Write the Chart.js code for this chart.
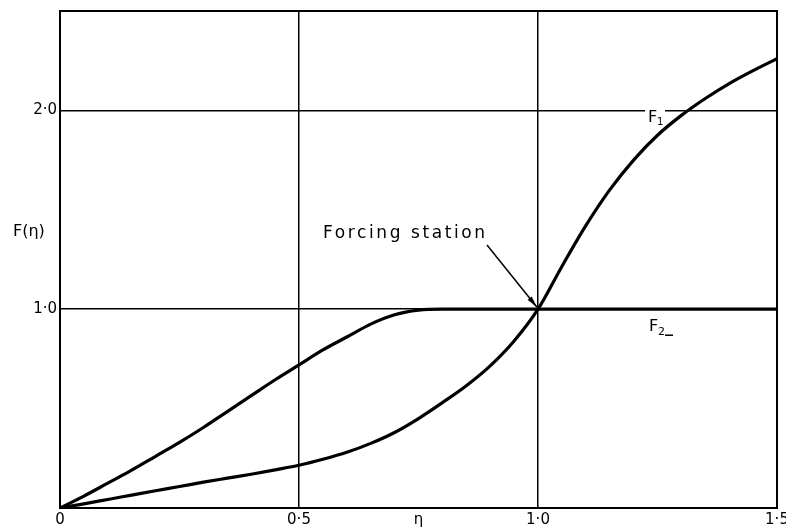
<!DOCTYPE html>
<html>
<head>
<meta charset="utf-8">
<script src="https://cdn.jsdelivr.net/npm/chart.js@4/dist/chart.umd.min.js"></script>
<style>
  body { margin: 0; background: #fff; }
  canvas { display: block; }
</style>
</head>
<body>
<canvas id="chart" width="786" height="532"></canvas>
<script>
// ====================
// Datos
// ====================
const eta = [0, 0.05, 0.1, 0.15, 0.2, 0.25, 0.3, 0.35, 0.4, 0.45, 0.5, 0.55, 0.6, 0.65, 0.7, 0.75, 0.8, 0.85, 0.9, 0.95,
             1.0, 1.05, 1.1, 1.15, 1.2, 1.25, 1.3, 1.35, 1.4, 1.45, 1.5];
const f1Values = [0, 0.021, 0.043, 0.065, 0.087, 0.108, 0.13, 0.15, 0.17, 0.192, 0.215, 0.245, 0.28, 0.325, 0.38, 0.45, 0.53, 0.615, 0.715, 0.84,
                  1.0, 1.215, 1.42, 1.6, 1.75, 1.875, 1.975, 2.06, 2.135, 2.2, 2.26];
const f2Values = [0, 0.06, 0.125, 0.19, 0.26, 0.33, 0.405, 0.485, 0.565, 0.645, 0.72, 0.795, 0.86, 0.925, 0.972, 0.995, 1.0, 1.0, 1.0, 1.0,
                  1.0, 1.0, 1.0, 1.0, 1.0, 1.0, 1.0, 1.0, 1.0, 1.0, 1.0];
const xTicks = [0, 0.5, 0.75, 1.0, 1.5];
const xTickLabels = ['0', '0·5', 'η', '1·0', '1·5'];
const yTicks = [0, 1.0, 2.0, 2.5];
const yTickLabels = ['', '1·0', '2·0', ''];

const FONT = '"DejaVu Sans", sans-serif';

// Texto, marco y flecha sobre el gráfico
const annotations = {
  id: 'annotations',
  afterDraw(chart) {
    const { ctx, chartArea, scales } = chart;
    const xs = scales.x, ys = scales.y;
    ctx.save();
    ctx.strokeStyle = '#000';
    ctx.fillStyle = '#000';
    ctx.lineWidth = 2;
    ctx.strokeRect(chartArea.left, chartArea.top, chartArea.right - chartArea.left, chartArea.bottom - chartArea.top);

    ctx.font = '16px ' + FONT;
    ctx.textBaseline = 'middle';
    ctx.textAlign = 'left';
    ctx.fillText('F(η)', 13, 232);

    ctx.textBaseline = 'alphabetic';
    ctx.font = '17px ' + FONT;
    ctx.letterSpacing = '2.6px';
    ctx.fillText('Forcing station', 323, 238);
    ctx.letterSpacing = '0px';

    // etiqueta F1 (corta la línea de 2·0)
    const f1x = 648, f1y = ys.getPixelForValue(2.0);
    ctx.fillStyle = '#fff';
    ctx.fillRect(f1x - 3, f1y - 2, 20, 5);
    ctx.fillStyle = '#000';
    ctx.font = '16px ' + FONT;
    ctx.fillText('F', f1x, f1y + 12);
    ctx.font = '10px ' + FONT;
    ctx.fillText('1', f1x + 9, f1y + 15);

    // etiqueta F2
    const f2x = 649, f2y = ys.getPixelForValue(1.0);
    ctx.font = '16px ' + FONT;
    ctx.fillText('F', f2x, f2y + 22);
    ctx.font = '11px ' + FONT;
    ctx.fillText('2', f2x + 9, f2y + 26);
    ctx.lineWidth = 1.5;
    ctx.beginPath();
    ctx.moveTo(f2x + 16, f2y + 26);
    ctx.lineTo(f2x + 24, f2y + 26);
    ctx.stroke();

    // flecha hacia la estación de forzado
    const tx = xs.getPixelForValue(1.0) - 1, ty = ys.getPixelForValue(1.0) - 2;
    const sx = 487, sy = 245;
    ctx.lineWidth = 1.5;
    ctx.beginPath();
    ctx.moveTo(sx, sy);
    ctx.lineTo(tx, ty);
    ctx.stroke();
    const ang = Math.atan2(ty - sy, tx - sx);
    ctx.beginPath();
    ctx.moveTo(tx, ty);
    ctx.lineTo(tx - 12 * Math.cos(ang - 0.22), ty - 12 * Math.sin(ang - 0.22));
    ctx.lineTo(tx - 12 * Math.cos(ang + 0.22), ty - 12 * Math.sin(ang + 0.22));
    ctx.closePath();
    ctx.fill();
    ctx.restore();
  }
};

const gridColor = (vals) => (c) => (c.tick && vals.includes(c.tick.value) ? '#000' : 'rgba(0,0,0,0)');

new Chart(document.getElementById('chart').getContext('2d'), {
  type: 'line',
  data: {
    datasets: [
      {
        label: 'F1',
        data: eta.map((x, i) => ({ x, y: f1Values[i] })),
        borderColor: '#000',
        borderWidth: 3.2,
        pointRadius: 0,
        cubicInterpolationMode: 'monotone',
        fill: false
      },
      {
        label: 'F2',
        data: eta.map((x, i) => ({ x, y: f2Values[i] })),
        borderColor: '#000',
        borderWidth: 3.2,
        pointRadius: 0,
        cubicInterpolationMode: 'monotone',
        fill: false
      }
    ]
  },
  options: {
    responsive: false,
    animation: false,
    layout: { padding: { top: 11, right: 9, left: 0, bottom: 0 } },
    plugins: { legend: { display: false }, tooltip: { enabled: false } },
    scales: {
      x: {
        type: 'linear',
        min: 0,
        max: 1.5,
        afterBuildTicks: (s) => { s.ticks = xTicks.map(v => ({ value: v })); },
        afterFit: (s) => { s.height = 24; s.paddingLeft = 0; s.paddingRight = 0; },
        border: { display: true, color: '#000', width: 2 },
        grid: { color: gridColor([0.5, 1.0]), lineWidth: 1.5, drawTicks: false },
        ticks: {
          padding: 3,
          maxRotation: 0,
          autoSkip: false,
          color: '#000',
          font: { family: FONT, size: 15 },
          callback: (v) => xTickLabels[xTicks.indexOf(v)]
        }
      },
      y: {
        type: 'linear',
        min: 0,
        max: 2.5,
        afterBuildTicks: (s) => { s.ticks = yTicks.map(v => ({ value: v })); },
        afterFit: (s) => { s.width = 60; s.paddingTop = 0; s.paddingBottom = 0; },
        border: { display: true, color: '#000', width: 2 },
        grid: { color: gridColor([1.0, 2.0]), lineWidth: 1.5, drawTicks: false },
        ticks: {
          padding: 3,
          autoSkip: false,
          color: '#000',
          font: { family: FONT, size: 15 },
          callback: (v) => yTickLabels[yTicks.indexOf(v)]
        }
      }
    }
  },
  plugins: [annotations]
});
</script>
</body>
</html>
